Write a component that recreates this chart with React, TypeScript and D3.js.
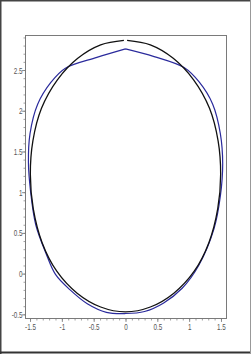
import React from "react";
import * as d3 from "d3";

const xTicks = [-1.5, -1, -0.5, 0, 0.5, 1, 1.5];
const xTickLabels = ["-1.5", "-1", "-0.5", "0", "0.5", "1", "1.5"];
const yTicks = [-0.5, 0, 0.5, 1, 1.5, 2, 2.5];
const yTickLabels = ["-0.5", "0", "0.5", "1", "1.5", "2", "2.5"];

// black curve, open path with a small gap at the top
const blackX = [0.025, 0.39, 0.75, 1.07, 1.32, 1.455, 1.495, 1.45, 1.31, 1.08, 0.76, 0.39, 0, -0.39, -0.76, -1.08, -1.31, -1.45, -1.495, -1.455, -1.32, -1.07, -0.75, -0.39, -0.025];
const blackY = [2.865, 2.81, 2.645, 2.38, 2.03, 1.63, 1.22, 0.8, 0.38, 0.03, -0.24, -0.41, -0.47, -0.41, -0.24, 0.03, 0.38, 0.8, 1.22, 1.63, 2.03, 2.38, 2.645, 2.81, 2.865];

// blue curve, kinked at the top
const blueX = [0, 0.45, 0.92, 1.16, 1.37, 1.49, 1.527, 1.49, 1.39, 1.15, 0.89, 0.6, 0.3, 0, -0.3, -0.6, -0.87, -1.1, -1.25, -1.41, -1.49, -1.525, -1.5, -1.38, -1.17, -0.95, -0.45, 0];
const blueY = [2.76, 2.665, 2.53, 2.35, 2.08, 1.72, 1.35, 0.95, 0.55, 0.1, -0.18, -0.36, -0.465, -0.49, -0.475, -0.37, -0.2, -0.01, 0.25, 0.6, 1.0, 1.36, 1.72, 2.08, 2.35, 2.52, 2.655, 2.76];

const W = 251, H = 354;
const L = 25, R = 226, T = 35, B = 318;

export default function App() {
  const x = d3.scaleLinear().domain([-1.579, 1.579]).range([L, R]);
  const y = d3.scaleLinear().domain([-0.545, 2.93]).range([B, T]);

  const mk = (xs: number[], ys: number[]) =>
    d3
      .line<number>()
      .x((i) => x(xs[i]))
      .y((i) => y(ys[i]))
      .curve(d3.curveCatmullRom.alpha(0.5))(xs.map((_, i) => i)) || "";

  const xMinor = d3.range(-15, 16).map((v) => v / 10);
  const yMinor = d3.range(-5, 30).map((v) => v / 10);
  const axisColor = "#7a7a7a";
  const textColor = "#555";

  return (
    <svg
      width={W}
      height={H}
      style={{ position: "absolute", left: 0, top: 0, background: "#fff" }}
    >
      {/* outer frame */}
      <line x1={0} y1={0.75} x2={W} y2={0.75} stroke="#444" strokeWidth={1.5} />
      <line x1={0.75} y1={0} x2={0.75} y2={H} stroke="#444" strokeWidth={1.5} />
      <line x1={0} y1={352.5} x2={W} y2={352.5} stroke="#333" strokeWidth={2} />
      <line x1={250.5} y1={0} x2={250.5} y2={H} stroke="#999" strokeWidth={1} />

      {/* plot box */}
      <rect x={L + 0.5} y={T + 0.5} width={R - L} height={B - T} fill="none" stroke={axisColor} strokeWidth={1} />

      {/* x ticks */}
      {xMinor.map((v) => (
        <line key={"xm" + v} x1={x(v) + 0.5} x2={x(v) + 0.5} y1={B + 0.5} y2={B + 2.5} stroke={axisColor} strokeWidth={0.7} />
      ))}
      {xTicks.map((v, i) => (
        <g key={"xt" + v}>
          <line x1={x(v) + 0.5} x2={x(v) + 0.5} y1={B + 0.5} y2={B + 4} stroke={axisColor} strokeWidth={0.8} />
          <g transform={`translate(${x(v) + 0.5},${B + 12}) scale(0.7,1)`}>
            <text textAnchor="middle" fontSize={9} fontFamily="Liberation Sans, Arial, sans-serif" fill={textColor}>
              {xTickLabels[i]}
            </text>
          </g>
        </g>
      ))}

      {/* y ticks */}
      {yMinor.map((v) => (
        <line key={"ym" + v} x1={L + 0.5} x2={L - 1.5} y1={y(v) + 0.5} y2={y(v) + 0.5} stroke={axisColor} strokeWidth={0.7} />
      ))}
      {yTicks.map((v, i) => (
        <g key={"yt" + v}>
          <line x1={L + 0.5} x2={L - 3} y1={y(v) + 0.5} y2={y(v) + 0.5} stroke={axisColor} strokeWidth={0.8} />
          <g transform={`translate(${L - 2.5},${y(v) + 3.5}) scale(0.7,1)`}>
            <text textAnchor="end" fontSize={9} fontFamily="Liberation Sans, Arial, sans-serif" fill={textColor}>
              {yTickLabels[i]}
            </text>
          </g>
        </g>
      ))}

      {/* curves */}
      <path d={mk(blueX, blueY)} fill="none" stroke="#2a2a9c" strokeWidth={1.2} />
      <path d={mk(blackX, blackY)} fill="none" stroke="#111" strokeWidth={1.3} />
    </svg>
  );
}
